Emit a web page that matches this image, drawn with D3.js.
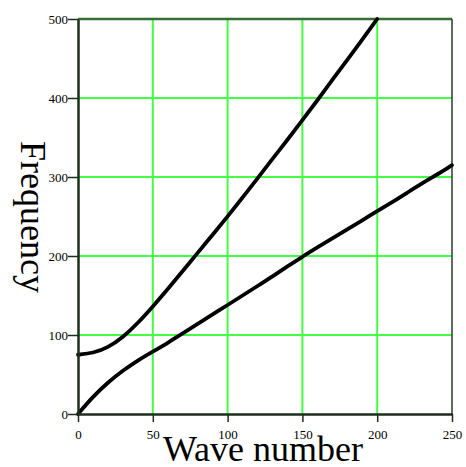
<!DOCTYPE html>
<html>
<head>
<meta charset="utf-8">
<script src="https://cdn.jsdelivr.net/npm/d3@7"></script>
<style>
  body { margin: 0; background: #fff; }
  svg { display: block; }
  .tick text { font-family: "Liberation Serif", "DejaVu Serif", serif; font-size: 13px; fill: #000; }
</style>
</head>
<body>
<div class="chart"></div>
<script>
// wave numbers sampled along the curves
var waveNumbers = [0, 10, 20, 30, 40, 50, 60, 70, 80, 90, 100, 110, 120, 130, 140, 150,
                   160, 170, 180, 190, 200, 210, 220, 230, 240, 250];
// upper branch (stops where it leaves the top of the plot)
var upperFreq = [75, 77, 84, 97, 115, 136, 158, 181, 204, 227, 250, 274, 298, 323, 347, 372,
                 397, 423, 448, 474, 500];
// lower branch
var lowerFreq = [0, 22, 40, 55, 68, 79, 90, 102, 114, 126, 138, 150, 162, 174, 187, 199,
                 211, 222, 234, 245, 257, 268, 280, 292, 303, 315];
var xTicks = [0, 50, 100, 150, 200, 250];
var yTicks = [0, 100, 200, 300, 400, 500];

var width = 466, height = 467;
var margin = {top: 19, right: 14, bottom: 53, left: 78};
var w = width - margin.left - margin.right;
var h = height - margin.top - margin.bottom;

var svg = d3.select(".chart").append("svg")
    .attr("width", width)
    .attr("height", height);
var g = svg.append("g")
    .attr("transform", "translate(" + margin.left + "," + margin.top + ")");

var xScale = d3.scaleLinear().domain([0, 250]).range([0, w]);
var yScale = d3.scaleLinear().domain([0, 500]).range([h, 0]);

// green grid
g.selectAll(".vgrid")
    .data(xTicks.slice(1, -1))
    .enter().append("line")
    .attr("x1", function(d){ return xScale(d); })
    .attr("x2", function(d){ return xScale(d); })
    .attr("y1", 0).attr("y2", h)
    .attr("stroke", "#44ff44").attr("stroke-width", 2);
g.selectAll(".hgrid")
    .data(yTicks.slice(1, -1))
    .enter().append("line")
    .attr("y1", function(d){ return yScale(d); })
    .attr("y2", function(d){ return yScale(d); })
    .attr("x1", 0).attr("x2", w)
    .attr("stroke", "#44ff44").attr("stroke-width", 2);

// frame: top and right
g.append("line").attr("x1", 0).attr("x2", w).attr("y1", 0).attr("y2", 0)
    .attr("stroke", "#356e35").attr("stroke-width", 2.5);
g.append("line").attr("x1", w).attr("x2", w).attr("y1", 0).attr("y2", h)
    .attr("stroke", "#2a3a2a").attr("stroke-width", 1.5);

// curves
var line = d3.line()
    .x(function(d){ return xScale(d[0]); })
    .y(function(d){ return yScale(d[1]); })
    .curve(d3.curveBasis);

[upperFreq, lowerFreq].forEach(function(series){
    var pts = series.map(function(v, i){ return [waveNumbers[i], v]; });
    g.append("path")
        .attr("d", line(pts))
        .attr("fill", "none")
        .attr("stroke", "#000")
        .attr("stroke-width", 3.8)
        .attr("stroke-linecap", "round");
});

// axes
var xAxis = d3.axisBottom(xScale).tickValues(xTicks).tickSize(8).tickSizeOuter(0).tickPadding(8);
var yAxis = d3.axisLeft(yScale).tickValues(yTicks).tickSize(10).tickSizeOuter(0).tickPadding(0);

var gx = g.append("g")
    .attr("transform", "translate(0," + h + ")")
    .call(xAxis);
var gy = g.append("g").call(yAxis);

[gx, gy].forEach(function(a){
    a.select(".domain").attr("stroke", "#1c2e1c").attr("stroke-width", 2.5);
    a.selectAll(".tick line").attr("stroke", "#1c2e1c").attr("stroke-width", 1.5);
});
gy.selectAll(".tick text").attr("dy", "0.35em");

// axis titles
svg.append("text")
    .attr("x", 263)
    .attr("y", 461)
    .attr("text-anchor", "middle")
    .attr("font-family", "Liberation Serif, serif")
    .attr("font-size", 36)
    .text("Wave number");

svg.append("text")
    .attr("transform", "translate(21,217) rotate(90)")
    .attr("text-anchor", "middle")
    .attr("font-family", "Liberation Serif, serif")
    .attr("font-size", 36)
    .text("Frequency");
</script>
</body>
</html>
